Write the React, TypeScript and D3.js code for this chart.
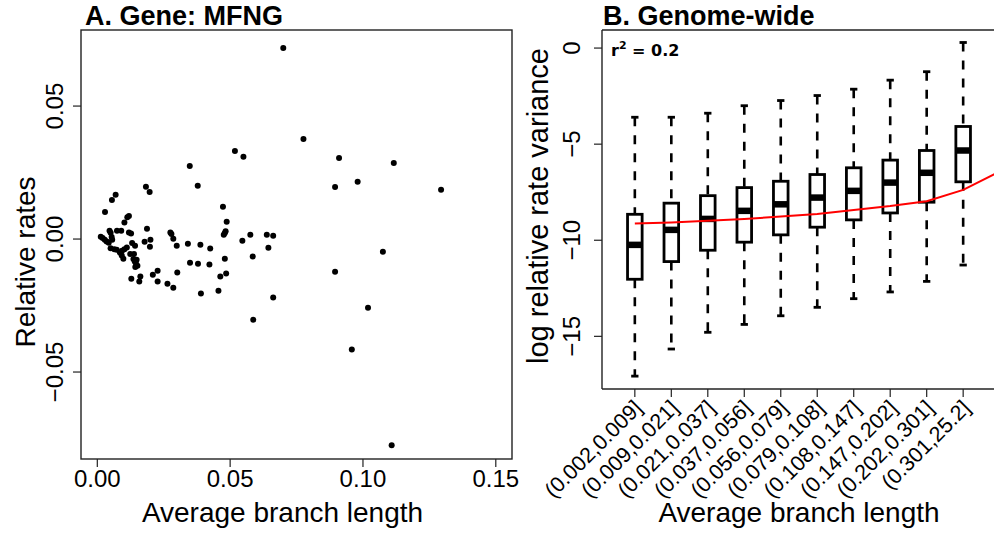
import React from "react";
import * as d3 from "d3";

// panel A: relative rate vs average branch length (gene MFNG)
const branchLen = [
  0.0700, 0.0776, 0.0518, 0.0550, 0.0910, 0.1116, 0.0348, 0.0378, 0.0895, 0.0980,
  0.1294, 0.0183, 0.0197, 0.0069, 0.0055, 0.0029, 0.0473, 0.0119, 0.0113, 0.0046,
  0.0050, 0.0074, 0.0090, 0.0119, 0.0127, 0.0187, 0.0275, 0.0279, 0.0483, 0.0480,
  0.0476, 0.0576, 0.0638, 0.0662, 0.0013, 0.0020, 0.0028, 0.0035, 0.0043, 0.0054,
  0.0056, 0.0178, 0.0200, 0.0286, 0.0546, 0.0341, 0.0388, 0.0425, 0.0198, 0.0299,
  0.0644, 0.0131, 0.0142, 0.0111, 0.0102, 0.0093, 0.0085, 0.0092, 0.0098, 0.0050,
  0.0064, 0.0073, 0.0124, 0.0138, 0.0136, 0.0141, 0.0148, 0.0146, 0.0143, 0.0151,
  0.0585, 0.0480, 0.0349, 0.0379, 0.0422, 0.0227, 0.0209, 0.0227, 0.0301, 0.0485,
  0.0463, 0.0128, 0.0162, 0.0158, 0.0264, 0.0286, 0.0390, 0.0456, 0.0662, 0.0895,
  0.0587, 0.1075, 0.1019, 0.0958, 0.1108, 0.0102, 0.0487,
];
const relRate = [
  0.0718, 0.0376, 0.0331, 0.0309, 0.0305, 0.0286, 0.0275, 0.0200, 0.0196, 0.0215,
  0.0185, 0.0197, 0.0177, 0.0167, 0.0147, 0.0102, 0.0121, 0.0087, 0.0082, 0.0031,
  0.0024, 0.0031, 0.0031, 0.0025, 0.0021, 0.0039, 0.0025, 0.0019, 0.0029, 0.0023,
  0.0016, 0.0016, 0.0016, 0.0012, 0.0009, 0.0004, -0.0003, -0.0009, -0.0014, 0.0008,
  -0.0003, -0.0010, -0.0003, 0.0001, -0.0006, -0.0018, -0.0021, -0.0036, -0.0029, -0.0025,
  -0.0033, -0.0015, -0.0025, -0.0032, -0.0038, -0.0044, -0.0051, -0.0062, -0.0074, -0.0035,
  -0.0038, -0.0040, -0.0056, -0.0056, -0.0075, -0.0084, -0.0078, -0.0094, -0.0105, -0.0100,
  -0.0066, -0.0074, -0.0089, -0.0093, -0.0096, -0.0119, -0.0134, -0.0160, -0.0126, -0.0130,
  -0.0141, -0.0149, -0.0141, -0.0160, -0.0168, -0.0183, -0.0205, -0.0194, -0.0220, -0.0123,
  -0.0303, -0.0048, -0.0258, -0.0415, -0.0775, 0.0062, 0.0065,
];
const xTicksA = [0, 0.05, 0.1, 0.15];
const yTicksA = [-0.05, 0, 0.05];

// panel B: genome-wide boxplots per branch-length bin
const bins = [
  "(0.002,0.009]", "(0.009,0.021]", "(0.021,0.037]", "(0.037,0.056]", "(0.056,0.079]",
  "(0.079,0.108]", "(0.108,0.147]", "(0.147,0.202]", "(0.202,0.301]", "(0.301,25.2]",
];
const whiskLo = [-17.07, -15.66, -14.79, -14.38, -13.93, -13.49, -13.04, -12.69, -12.14, -11.29];
const q1 = [-12.03, -11.11, -10.52, -10.1, -9.72, -9.32, -8.94, -8.58, -8.02, -6.96];
const median = [-10.24, -9.46, -8.89, -8.47, -8.13, -7.78, -7.43, -7.0, -6.49, -5.33];
const q3 = [-8.65, -8.07, -7.68, -7.26, -6.93, -6.58, -6.23, -5.83, -5.33, -4.08];
const whiskHi = [-3.6, -3.6, -3.39, -3.0, -2.73, -2.47, -2.14, -1.67, -1.23, 0.29];
const fitPos = [1, 2, 3, 4, 5, 6, 7, 8, 9, 10, 10.9];
const fitVal = [-9.13, -9.08, -8.99, -8.89, -8.77, -8.63, -8.42, -8.22, -7.97, -7.38, -6.52];
const yTicksB = [0, -5, -10, -15];

const FONT = "'Liberation Sans', Arial, Helvetica, sans-serif";

export default function App() {
  const width = 994;
  const height = 535;

  // panel A geometry
  const aL = 81, aR = 512, aT = 30, aB = 459;
  const xA = d3.scaleLinear().domain([-0.00614, 0.1561]).range([aL, aR]);
  const yA = d3.scaleLinear().domain([-0.0827, 0.0786]).range([aB, aT]);
  const fmtA = d3.format(".2f");

  // panel B geometry
  const bL = 602, bR = 996, bT = 30, bB = 389;
  const xB = d3.scaleLinear().domain([0.1, 10.9]).range([bL, bR]);
  const yB = d3.scaleLinear().domain([-17.74, 0.94]).range([bB, bT]);
  const boxW = xB(1.4) - xB(1);
  const capW = boxW / 2;
  const fitLine = d3.line<number>()
    .x((d, i) => xB(fitPos[i]))
    .y((d) => yB(d))(fitVal);

  return (
    <svg width={width} height={height} style={{ position: "absolute", left: 0, top: 0, background: "white" }}
      fontFamily={FONT}>
      <defs>
        <clipPath id="clipB">
          <rect x={bL} y={bT} width={bR - bL} height={bB - bT} />
        </clipPath>
      </defs>

      {/* ---------- panel A ---------- */}
      <text x={85} y={24.5} fontSize={27} fontWeight="bold">A. Gene: MFNG</text>
      <rect x={aL} y={aT} width={aR - aL} height={aB - aT} fill="none" stroke="#222" strokeWidth={1.4} />
      {xTicksA.map((t) => (
        <g key={"xa" + t}>
          <line x1={xA(t)} x2={xA(t)} y1={aB} y2={aB + 8} stroke="#222" strokeWidth={1.2} />
          <text x={xA(t)} y={487} fontSize={24} textAnchor="middle">{fmtA(t)}</text>
        </g>
      ))}
      {yTicksA.map((t) => (
        <g key={"ya" + t}>
          <line x1={aL - 8} x2={aL} y1={yA(t)} y2={yA(t)} stroke="#222" strokeWidth={1.2} />
          <text transform={`translate(63,${yA(t)}) rotate(-90)`} fontSize={24} textAnchor="middle">{fmtA(t)}</text>
        </g>
      ))}
      <text x={282.5} y={522} fontSize={28} textAnchor="middle">Average branch length</text>
      <text transform="translate(35,262) rotate(-90)" fontSize={28} textAnchor="middle">Relative rates</text>
      {branchLen.map((b, i) => (
        <circle key={"p" + i} cx={xA(b)} cy={yA(relRate[i])} r={3} fill="black" />
      ))}

      {/* ---------- panel B ---------- */}
      <text x={603} y={24.5} fontSize={27} fontWeight="bold">B. Genome-wide</text>
      <line x1={bL} x2={bR} y1={bT} y2={bT} stroke="#222" strokeWidth={1.4} />
      <line x1={bL} x2={bR} y1={bB} y2={bB} stroke="#222" strokeWidth={1.4} />
      <line x1={bL} x2={bL} y1={bT} y2={bB} stroke="#222" strokeWidth={1.4} />
      <line x1={bR} x2={bR} y1={bT} y2={bB} stroke="#222" strokeWidth={1.4} />
      {yTicksB.map((t) => (
        <g key={"yb" + t}>
          <line x1={bL - 8} x2={bL} y1={yB(t)} y2={yB(t)} stroke="#222" strokeWidth={1.2} />
          <text transform={`translate(580,${yB(t)}) rotate(-90)`} fontSize={24} textAnchor="middle">{d3.format("d")(t)}</text>
        </g>
      ))}
      <text transform="translate(548,206) rotate(-90)" fontSize={29} textAnchor="middle">log relative rate variance</text>
      <text x={611} y={56} fontSize={16} fontWeight="bold" fontFamily="'DejaVu Sans', sans-serif">
        r<tspan fontSize={11} dy={-7}>2</tspan><tspan dy={7}> = 0.2</tspan>
      </text>
      {bins.map((lab, i) => {
        const cx = xB(i + 1);
        return (
          <g key={"box" + i}>
            <line x1={cx} x2={cx} y1={yB(whiskHi[i])} y2={yB(q3[i])} stroke="black" strokeWidth={2.6} strokeDasharray="9,9" />
            <line x1={cx} x2={cx} y1={yB(q1[i])} y2={yB(whiskLo[i])} stroke="black" strokeWidth={2.6} strokeDasharray="9,9" />
            <line x1={cx - capW / 2} x2={cx + capW / 2} y1={yB(whiskHi[i])} y2={yB(whiskHi[i])} stroke="black" strokeWidth={2.8} />
            <line x1={cx - capW / 2} x2={cx + capW / 2} y1={yB(whiskLo[i])} y2={yB(whiskLo[i])} stroke="black" strokeWidth={2.8} />
            <rect x={cx - boxW / 2} y={yB(q3[i])} width={boxW} height={yB(q1[i]) - yB(q3[i])}
              fill="white" stroke="black" strokeWidth={2.8} />
            <line x1={cx - boxW / 2} x2={cx + boxW / 2} y1={yB(median[i])} y2={yB(median[i])} stroke="black" strokeWidth={6.5} />
            <line x1={cx} x2={cx} y1={bB} y2={bB + 8} stroke="#222" strokeWidth={1.2} />
            <text transform={`translate(${cx + 3},404) rotate(-45)`} fontSize={21.5} textAnchor="end" dy="0.35em">{lab}</text>
          </g>
        );
      })}
      <path d={fitLine || ""} fill="none" stroke="red" strokeWidth={2} clipPath="url(#clipB)" />
      <text x={799} y={522} fontSize={28} textAnchor="middle">Average branch length</text>
    </svg>
  );
}
